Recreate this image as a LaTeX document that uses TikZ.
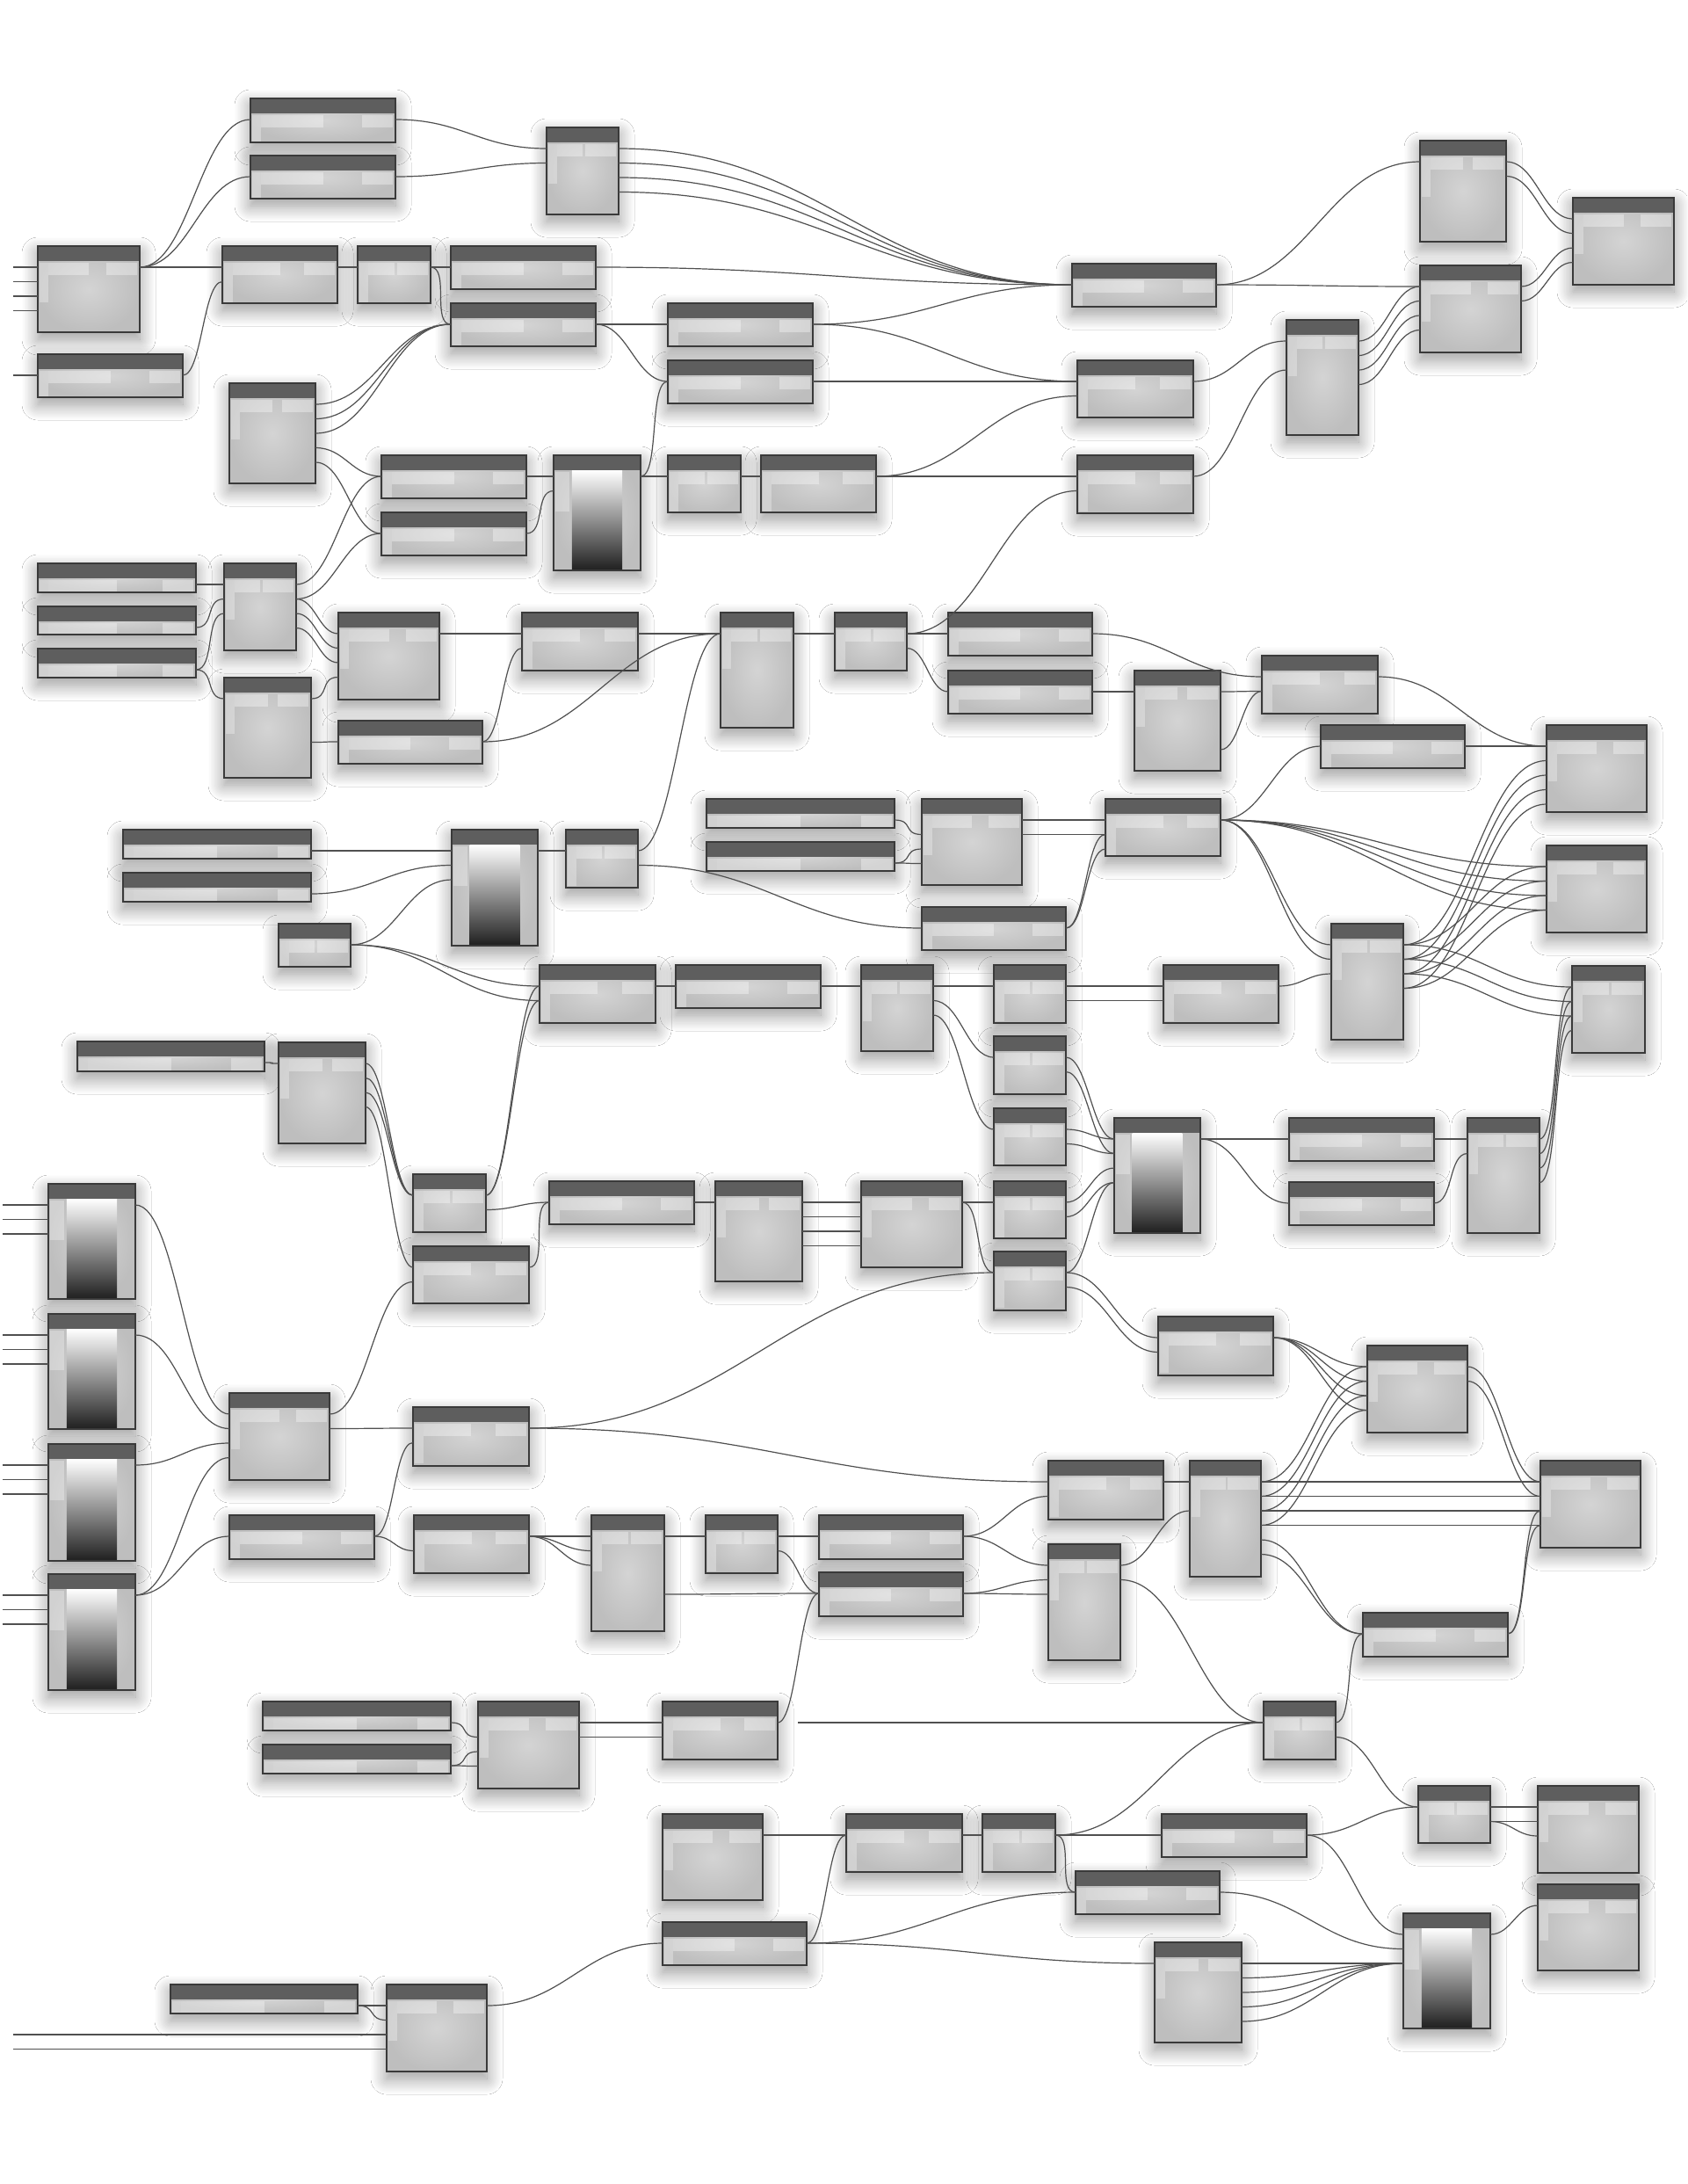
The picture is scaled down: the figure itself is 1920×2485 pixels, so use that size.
\documentclass[tikz,border=0pt]{standalone}
\usetikzlibrary{calc,shadows.blur}
\definecolor{ghead}{HTML}{5E5E5E}
\definecolor{glite}{HTML}{D4D4D4}
\definecolor{gdark}{HTML}{BEBEBE}
\definecolor{gedge}{HTML}{3A3A3A}
\definecolor{gwire}{HTML}{505050}

\tikzset{
  gbase/.style={anchor=north west, inner sep=0pt, outer sep=0pt,
    draw=gedge, line width=1.1pt, inner color=glite, outer color=gdark,
    blur shadow={shadow xshift=0pt, shadow yshift=-8pt,
      shadow blur radius=18pt, shadow blur steps=16, shadow opacity=42}},
  gbox/.style={gbase,
    path picture={
      \path (path picture bounding box.north west) coordinate (pnw)
            (path picture bounding box.north east) coordinate (pne);
      \fill[ghead] (pnw) rectangle ([yshift=-17pt]pne);
      \fill[white, opacity=.3] ([xshift=2pt,yshift=-19pt]pnw) rectangle ([xshift=12pt,yshift=-64pt]pnw);
      \fill[white, opacity=.35] ([xshift=12pt,yshift=-19pt]pnw) rectangle ($(pnw)!.5!(pne)+(0pt,-33pt)$);
      \fill[white, opacity=.35] ([xshift=-38pt,yshift=-19pt]pne) rectangle ([xshift=-3pt,yshift=-33pt]pne);
    }},
  gramp/.style={gbase,
    path picture={
      \path (path picture bounding box.north west) coordinate (pnw)
            (path picture bounding box.north east) coordinate (pne)
            (path picture bounding box.south west) coordinate (psw);
      \fill[ghead] (pnw) rectangle ([yshift=-17pt]pne);
      \fill[white, opacity=.3] ([xshift=2pt,yshift=-19pt]pnw) rectangle ([xshift=18pt,yshift=-64pt]pnw);
      \shade[top color=white, bottom color=black!88]
        ($(pnw)!.21!(pne)+(0pt,-17pt)$) rectangle ($(psw)!.79!(psw-|pne)$);
    }},
  wire/.style={draw=gwire, line width=1.2pt},
}

% node: name, x1, y1, x2, y2 (pixels, y downwards)
\newcommand\gn[6][gbox]{%
  \node[#1, minimum width={(#5-#3)*1pt}, minimum height={(#6-#4)*1pt}] (#2) at (#3,#4) {};}
% wire: from node, out port, to node, in port
\newcommand\wire[4]{%
  \draw[wire] let \p1=($(#1.north east)+(0,24+16.5*#2)$),
                  \p2=($(#3.north west)+(0,24+16.5*#4)$),
                  \n1={max(22,0.45*(\x2-\x1))} in
    (\p1) .. controls +(\n1,0) and +(-\n1,0) .. (\p2);}

\begin{document}
\begin{tikzpicture}[x=1pt, y=-1pt]
\fill[white] (0,0) rectangle (1920,2485);
\useasboundingbox (0,0) rectangle (1920,2485);

% top band
\gn{A1}{285}{112}{450}{162}
\gn{A2}{285}{177}{450}{226}
\gn{A3}{622}{145}{704}{244}
\gn{B1}{43}{280}{159}{378}
\gn{B2}{253}{280}{384}{345}
\gn{B3}{407}{280}{490}{345}
\gn{B4}{513}{280}{678}{329}
\gn{B5}{513}{345}{678}{394}
\gn{C1}{43}{403}{208}{452}
\gn{C2}{261}{436}{359}{550}
\gn{C3}{760}{345}{925}{394}
\gn{C4}{760}{410}{925}{459}
\gn{D1}{434}{518}{599}{567}
\gn{D2}{434}{583}{599}{632}
\gn[gramp]{D3}{630}{518}{729}{649}
\gn{D4}{760}{518}{843}{583}
\gn{D5}{866}{518}{997}{583}
\gn{E1}{43}{641}{223}{674}
\gn{E2}{43}{690}{223}{722}
\gn{E3}{43}{738}{223}{771}
\gn{E4}{255}{641}{337}{740}
\gn{E5}{255}{771}{354}{885}
\gn{E6}{385}{697}{500}{796}
\gn{E7}{385}{820}{549}{869}
\gn{E8}{594}{697}{726}{763}
\gn{E9}{820}{697}{903}{828}
\gn{E10}{950}{697}{1032}{763}
\gn{F1}{1220}{300}{1384}{349}
\gn{F2}{1616}{160}{1714}{275}
\gn{F3}{1790}{225}{1905}{324}
\gn{F4}{1616}{302}{1731}{401}
\gn{F5}{1226}{410}{1358}{475}
\gn{F6}{1464}{364}{1546}{495}
\gn{F7}{1226}{518}{1358}{584}
\gn{G1}{1079}{697}{1243}{746}
\gn{G2}{1079}{763}{1243}{812}
\gn{G3}{1291}{763}{1389}{877}
\gn{G4}{1436}{746}{1568}{812}
\gn{G5}{1503}{825}{1667}{874}
\gn{G6}{1760}{825}{1874}{924}

% middle band
\gn{H1}{140}{944}{354}{977}
\gn{H2}{140}{993}{354}{1026}
\gn{H3}{317}{1051}{399}{1100}
\gn[gramp]{H4}{514}{944}{612}{1076}
\gn{H5}{644}{944}{726}{1010}
\gn{H6}{804}{909}{1018}{942}
\gn{H7}{804}{958}{1018}{991}
\gn{V1}{1049}{909}{1163}{1007}
\gn{V2}{1258}{909}{1389}{974}
\gn{V3}{1049}{1032}{1213}{1081}
\gn{I1}{614}{1098}{746}{1164}
\gn{I2}{769}{1098}{934}{1147}
\gn{W1}{980}{1098}{1062}{1196}
\gn{W2}{1131}{1098}{1213}{1164}
\gn{W3}{1324}{1098}{1455}{1164}
\gn{W4}{1515}{1051}{1597}{1183}
\gn{X1}{1760}{962}{1874}{1061}
\gn{X2}{1789}{1099}{1872}{1198}
\gn{J1}{88}{1185}{301}{1219}
\gn{J2}{317}{1186}{416}{1301}
\gn{K1}{470}{1336}{553}{1402}
\gn{K2}{470}{1418}{602}{1483}
\gn{K3}{625}{1344}{790}{1393}
\gn{K4}{814}{1344}{913}{1458}
\gn{Y1}{1131}{1179}{1213}{1245}
\gn{Y2}{1131}{1261}{1213}{1326}
\gn[gramp]{Y3}{1268}{1272}{1366}{1403}
\gn{Y4}{1467}{1272}{1632}{1321}
\gn{Y5}{1467}{1345}{1632}{1394}
\gn{Y6}{1670}{1272}{1752}{1403}
\gn{Z1}{980}{1344}{1095}{1442}
\gn{Z2}{1131}{1344}{1213}{1409}
\gn{Z3}{1131}{1424}{1213}{1491}
\gn{Z4}{1318}{1498}{1449}{1565}
\gn{Z5}{1556}{1531}{1670}{1630}

% lower band
\gn[gramp]{L1}{55}{1347}{154}{1478}
\gn[gramp]{L2}{55}{1495}{154}{1626}
\gn[gramp]{L3}{55}{1643}{154}{1776}
\gn[gramp]{L4}{55}{1791}{154}{1923}
\gn{M1}{261}{1585}{375}{1684}
\gn{M2}{470}{1601}{602}{1668}
\gn{N1}{261}{1724}{426}{1774}
\gn{N2}{471}{1724}{602}{1790}
\gn{N3}{673}{1724}{756}{1856}
\gn{N4}{803}{1724}{885}{1790}
\gn{N5}{932}{1724}{1096}{1774}
\gn{N6}{932}{1789}{1096}{1839}
\gn{R1}{1193}{1662}{1324}{1729}
\gn{R2}{1354}{1662}{1435}{1794}
\gn{R3}{1753}{1662}{1867}{1761}
\gn{R4}{1193}{1757}{1275}{1889}
\gn{R5}{1551}{1835}{1716}{1885}
\gn{O1}{299}{1936}{513}{1969}
\gn{O2}{299}{1985}{513}{2018}
\gn{O3}{544}{1936}{659}{2035}
\gn{O4}{754}{1936}{885}{2002}
\gn{S1}{1438}{1936}{1520}{2002}
\gn{P1}{754}{2064}{868}{2162}
\gn{P2}{754}{2187}{918}{2236}
\gn{T1}{963}{2064}{1095}{2130}
\gn{T2}{1118}{2064}{1201}{2130}
\gn{T3}{1322}{2064}{1487}{2113}
\gn{T4}{1614}{2032}{1696}{2097}
\gn{T5}{1750}{2032}{1865}{2131}
\gn{U1}{1224}{2129}{1388}{2178}
\gn{U2}{1314}{2210}{1413}{2324}
\gn[gramp]{U3}{1597}{2177}{1696}{2308}
\gn{U4}{1750}{2144}{1865}{2242}
\gn{Q1}{194}{2258}{407}{2291}
\gn{Q2}{440}{2258}{554}{2357}

% loose inputs from the left edge
\foreach \n/\k/\d in {B1/0/28,B1/1/28,B1/2/28,B1/3/28,C1/0/28,
    L1/0/52,L1/1/52,L1/2/52,L2/0/52,L2/1/52,L2/2/52,
    L3/0/52,L3/1/52,L3/2/52,L4/0/52,L4/1/52,L4/2/52,
    Q2/2/425,Q2/3/425}
  {\coordinate (in-\n-\k) at ($(\n.north west)+(-\d,24+16.5*\k)$);
   \draw[wire] (in-\n-\k) -- ($(\n.north west)+(0,24+16.5*\k)$);}
\coordinate (gapS) at (908,1960);
\draw[wire] (gapS) -- ($(S1.north west)+(0,24)$);

% wires
\foreach \a/\i/\b/\j in {B1/0/A1/0, B1/0/A2/0, B1/0/B2/0, C1/0/B2/1,
    B2/0/B3/0, B3/0/B4/0, B3/0/B5/0, A1/0/A3/0, A2/0/A3/1,
    A3/0/F1/0, A3/1/F1/0, A3/2/F1/0, A3/3/F1/0, B4/0/F1/0,
    B5/0/C3/0, B5/0/C4/0, C2/0/B5/0, C2/1/B5/0, C2/2/B5/0,
    C2/3/D1/0, C2/4/D2/0, C3/0/F1/0, C3/0/F5/0, C4/0/F5/0,
    D1/0/D3/0, D2/0/D3/1, D3/0/D4/0, D3/0/C4/0, D4/0/D5/0,
    D5/0/F5/1, D5/0/F7/0,
    E1/0/E4/0, E2/0/E4/1, E3/0/E4/2, E3/0/E5/0,
    E4/0/D1/0, E4/1/D2/0, E4/1/E6/0, E4/2/E6/1, E4/3/E6/2,
    E5/0/E6/3, E5/3/E7/0, E6/0/E8/0, E7/0/E8/1, E7/0/E9/0,
    E8/0/E9/0, H5/0/E9/0, E9/0/E10/0, E10/0/F7/1, E10/0/G1/0, E10/1/G2/0,
    F1/0/F2/0, F1/0/F4/0, F2/0/F3/0, F2/1/F3/1, F4/0/F3/2, F4/1/F3/3,
    F5/0/F6/0, F7/0/F6/2, F6/0/F4/0, F6/1/F4/1, F6/2/F4/2, F6/3/F4/3,
    G1/0/G4/0, G2/0/G3/0, G3/0/G4/1, G3/4/G4/1, G4/0/G6/0, G5/0/G6/0,
    V2/0/G5/0,
    H1/0/H4/0, H2/0/H4/1, H3/0/H4/2, H4/0/H5/0, H5/1/V3/0,
    H3/0/I1/0, H3/0/I1/1, H6/0/V1/1, H7/0/V1/2, H7/0/V1/3,
    V1/0/V2/0, V1/1/V2/1, V3/0/V2/1, V3/0/V2/2,
    V2/0/X1/0, V2/0/X1/1, V2/0/X1/2, V2/0/X1/3, V2/0/W4/0, V2/0/W4/1,
    I1/0/I2/0, I2/0/W1/0, W1/0/W2/0, W1/1/Y1/0, W1/2/Y2/0,
    W2/0/W3/0, W2/1/W3/1, W3/0/W4/2,
    W4/0/G6/1, W4/1/G6/2, W4/2/G6/3, W4/3/G6/4,
    W4/0/X1/0, W4/1/X1/1, W4/2/X1/2, W4/3/X1/3,
    W4/0/X2/0, W4/1/X2/1, W4/2/X2/2,
    Y6/0/X2/0, Y6/1/X2/1, Y6/2/X2/2, Y6/3/X2/3,
    J1/0/J2/0, J2/0/K1/0, J2/1/K1/0, J2/2/K1/0, J2/3/K2/0,
    K1/0/I1/0, K1/0/I1/1, K1/1/K3/0, K2/0/K3/0, K3/0/K4/0,
    K4/0/Z1/0, K4/1/Z1/1, K4/2/Z1/2, K4/3/Z1/3,
    Z1/0/Z2/0, Z1/0/Z3/0, M2/0/Z3/0,
    Y1/0/Y3/0, Y1/1/Y3/1, Y2/0/Y3/0, Y2/1/Y3/1, Z2/0/Y3/2, Z2/1/Y3/3,
    Z3/0/Y3/3, Z3/0/Z4/0, Z3/1/Z4/1,
    Y3/0/Y4/0, Y3/0/Y5/0, Y4/0/Y6/0, Y5/0/Y6/1,
    Z4/0/Z5/0, Z4/0/Z5/1, Z4/0/Z5/2, Z4/0/Z5/3,
    R2/0/Z5/0, R2/1/Z5/1, R2/2/Z5/2, R2/3/Z5/3,
    R2/0/R3/0, R2/1/R3/1, R2/2/R3/2, R2/3/R3/3,
    Z5/0/R3/0, Z5/1/R3/1, R5/0/R3/2, R5/0/R3/3,
    R2/4/R5/0, R2/5/R5/0, S1/0/R5/0, S1/1/T4/0,
    L1/0/M1/0, L2/0/M1/1, L3/0/M1/2, L4/0/M1/3, L4/0/N1/0,
    M1/0/K2/1, M1/1/M2/0, M2/0/R1/0,
    N1/0/N2/1, N1/0/M2/1, N2/0/N3/0, N2/0/N3/1, N2/0/N3/2,
    N3/0/N4/0, N3/4/N6/0, N4/0/N5/0, N4/1/N6/0, O4/0/N6/0,
    N5/0/R1/1, N5/0/R4/0, N6/0/R4/1, N6/0/R4/2,
    R1/0/R2/0, R4/0/R2/2, R4/1/S1/0,
    O1/0/O3/1, O2/0/O3/2, O2/0/O3/3, O3/0/O4/0, O3/1/O4/1,
    P1/0/T1/0, P2/0/T1/0, P2/0/U1/0, P2/0/U2/0,
    Q1/0/Q2/0, Q1/0/Q2/1, Q2/0/P2/0,
    T1/0/T2/0, T2/0/T3/0, T2/0/S1/0, T2/0/U1/0,
    T3/0/T4/0, T3/0/U3/0, U1/0/U3/1,
    U2/0/U3/2, U2/1/U3/2, U2/2/U3/2, U2/3/U3/2, U2/4/U3/2,
    U3/0/U4/0, T4/0/T5/0, T4/1/T5/1, T4/1/T5/2}
  {\wire{\a}{\i}{\b}{\j}}
\end{tikzpicture}
\end{document}
